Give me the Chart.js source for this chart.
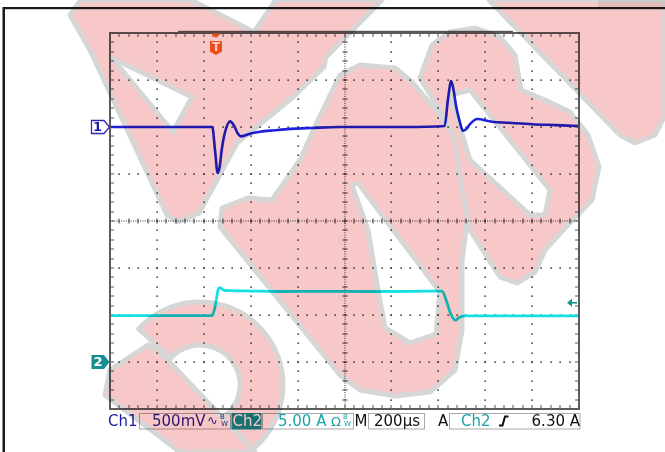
<!DOCTYPE html>
<html><head><meta charset="utf-8">
<script src="https://cdn.jsdelivr.net/npm/chart.js@4.4.0/dist/chart.umd.min.js"></script>
<style>html,body{margin:0;padding:0;background:#fff;overflow:hidden}#wrap{position:relative;width:665px;height:452px}</style>
</head><body><div id="wrap"><canvas id="c" width="665" height="452"></canvas></div>
<script>
// ---- data ----
const ch1TimeUs = [0, 300, 436, 448, 459, 468, 476, 490, 512, 530, 545, 559, 600, 640, 700, 768, 860, 981, 1100, 1250, 1427, 1441, 1455, 1466, 1476, 1490, 1505, 1520, 1535, 1565, 1629, 1700, 1800, 1900, 2000];
const ch1Volts  = [0, 0, 0, -0.25, -0.49, -0.42, -0.25, -0.06, 0.06, 0.01, -0.07, -0.10, -0.07, -0.05, -0.035, -0.02, -0.01, 0, 0, 0, 0.01, 0.29, 0.49, 0.38, 0.22, 0.07, -0.04, -0.02, 0.03, 0.085, 0.056, 0.045, 0.03, 0.02, 0.01];
const ch2TimeUs = [0, 300, 436, 442, 448, 455, 462, 469, 485, 512, 600, 725, 900, 1100, 1300, 1416, 1437, 1451, 1473, 1487, 1514, 1600, 1800, 2000];
const ch2Amps   = [4.93, 4.93, 4.93, 5.3, 5.88, 6.9, 7.77, 7.9, 7.65, 7.59, 7.55, 7.5, 7.52, 7.5, 7.52, 7.55, 6.31, 5.24, 4.44, 4.71, 4.9, 4.9, 4.9, 4.9];

const ch1VoltsPerDiv = 0.5, ch1GroundDiv = 2;
const ch2AmpsPerDiv = 5, ch2GroundDiv = -3;
const timePerDivUs = 200, timeDivs = 10, vertDivs = 8;
const triggerTimeUs = 452;
const triggerLevelA = 6.30;
const statusCh1 = ["Ch1", "500mV"];
const statusCh2 = ["Ch2", "5.00 A"];
const statusTime = ["M", "200\u00b5s"];
const statusTrig = ["A", "Ch2", "6.30 A"];

const ch1Points = ch1TimeUs.map((t, i) => ({x: t, y: ch1GroundDiv + ch1Volts[i] / ch1VoltsPerDiv}));
const ch2Points = ch2TimeUs.map((t, i) => ({x: t, y: ch2GroundDiv + ch2Amps[i] / ch2AmpsPerDiv}));

// ---- watermark shapes (decorative overlay seen on the screenshot) ----
const wmShapes = [
  {outer: [[70,15],[81,0],[191,0],[254,32],[276,0],[382,0],[326,57],[324,67],[293,97],[237,143],[199,213],[178,222],[167,215],[90,50]],
   holes: [[[112,58],[192,97],[173,132]]]},
  {outer: [[220,227],[222,208],[248,198],[272,200],[300,160],[318,120],[340,75],[360,65],[395,68],[412,82],[440,115],[465,150],[470,200],[462,260],[462,330],[455,370],[430,392],[395,396],[360,390],[340,375]],
   holes: [[[352,185],[358,183],[440,292],[436,334],[410,343],[385,328],[378,290],[368,230]]]},
  {outer: [[420,78],[432,45],[450,32],[475,28],[500,37],[515,55],[521,90],[545,100],[570,112],[588,135],[599,167],[592,200],[565,228],[545,250],[535,272],[517,283],[500,277],[470,230],[460,180],[455,140],[440,110]],
   holes: [[[450,95],[470,90],[550,190],[545,215],[530,215],[470,160]]]},
  {outer: [[489,0],[665,0],[665,115],[655,135],[635,143],[620,135]], holes: []},
  {outer: [[105,395],[110,370],[148,345],[160,352],[255,452],[180,452]], holes: []}
];
const wmRing = {cx: 200, cy: 385, rOut: 83, rIn: 40, a0: -2.4, a1: 1.9};

function drawWatermark(ctx, w, h) {
  const off = document.createElement('canvas');
  off.width = w; off.height = h;
  const o = off.getContext('2d');
  o.fillStyle = '#fff'; o.fillRect(0, 0, w, h);
  o.lineJoin = 'round';
  const pink = 'rgb(248,200,200)', grey = 'rgb(214,214,214)';
  o.beginPath();
  o.arc(wmRing.cx, wmRing.cy, wmRing.rOut, wmRing.a0, wmRing.a1);
  o.arc(wmRing.cx, wmRing.cy, wmRing.rIn, wmRing.a1, wmRing.a0, true);
  o.closePath();
  o.fillStyle = pink; o.fill(); o.strokeStyle = grey; o.lineWidth = 5; o.stroke();
  wmShapes.forEach(s => {
    o.beginPath();
    const add = pts => { pts.forEach((p, i) => i ? o.lineTo(p[0], p[1]) : o.moveTo(p[0], p[1])); o.closePath(); };
    add(s.outer); s.holes.forEach(add);
    o.fillStyle = pink; o.fill('evenodd');
    o.strokeStyle = grey; o.lineWidth = 5; o.stroke();
  });
  ctx.save();
  ctx.globalCompositeOperation = 'multiply';
  ctx.drawImage(off, 0, 0);
  ctx.restore();
}

const scopePlugin = {
  id: 'scope',
  beforeDatasetsDraw(chart) {
    const {ctx, chartArea: a} = chart;
    const L = a.left, T = a.top, R = a.right, B = a.bottom;
    const dx = (R - L) / timeDivs, dy = (B - T) / vertDivs;
    ctx.save();
    ctx.fillStyle = '#fff'; ctx.fillRect(L, T, R - L, B - T);
    ctx.fillStyle = '#333';
    for (let i = 1; i < timeDivs; i++) {
      if (i === timeDivs / 2) continue;
      const x = Math.round(L + i * dx);
      for (let k = 1; k < vertDivs * 5; k++) ctx.fillRect(x - 0.6, Math.round(T + k * dy / 5) - 0.6, 1.5, 1.5);
    }
    for (let j = 1; j < vertDivs; j++) {
      if (j === vertDivs / 2) continue;
      const y = Math.round(T + j * dy);
      for (let k = 1; k < timeDivs * 5; k++) ctx.fillRect(Math.round(L + k * dx / 5) - 0.6, y - 0.6, 1.5, 1.5);
    }
    const cx = Math.round((L + R) / 2), cy = Math.round((T + B) / 2);
    for (let k = 1; k < vertDivs * 20; k++) ctx.fillRect(cx - 0.5, T + k * dy / 20 - 0.5, 1, 1);
    for (let k = 1; k < timeDivs * 20; k++) ctx.fillRect(L + k * dx / 20 - 0.5, cy - 0.5, 1, 1);
    for (let k = 1; k < vertDivs * 5; k++) ctx.fillRect(cx - 2.5, Math.round(T + k * dy / 5) - 0.5, 5, 1);
    for (let k = 1; k < timeDivs * 5; k++) ctx.fillRect(Math.round(L + k * dx / 5) - 0.5, cy - 2.5, 1, 5);
    ctx.fillStyle = '#555';
    for (let k = 1; k < timeDivs * 5; k++) {
      const x = Math.round(L + k * dx / 5);
      ctx.fillRect(x - 0.5, T, 1, 4); ctx.fillRect(x - 0.5, B - 4, 1, 4);
    }
    for (let k = 1; k < vertDivs * 5; k++) {
      const y = Math.round(T + k * dy / 5);
      ctx.fillRect(L, y - 0.5, 4, 1); ctx.fillRect(R - 4, y - 0.5, 4, 1);
    }
    ctx.restore();
  },
  afterDatasetsDraw(chart) {
    const {ctx, chartArea: a, scales} = chart;
    const L = a.left, T = a.top, R = a.right, B = a.bottom;
    ctx.save();
    ctx.strokeStyle = '#5c5c5c'; ctx.lineWidth = 2;
    ctx.strokeRect(L, T, R - L, B - T);
    ctx.fillStyle = '#555'; ctx.fillRect(178, T - 2.2, 335, 1.4);
    ctx.fillStyle = '#eeeeee'; ctx.fillRect(598, 0, 67, 7);
    ctx.fillStyle = '#1a1a1a';
    ctx.fillRect(3, 7, 662, 2.2); ctx.fillRect(2.5, 7, 2.5, 445);

    const tx = scales.x.getPixelForValue(triggerTimeUs);
    ctx.fillStyle = '#f2621c';
    ctx.beginPath(); ctx.moveTo(tx - 5, T + 0.5); ctx.lineTo(tx + 5, T + 0.5); ctx.lineTo(tx, T + 5); ctx.closePath(); ctx.fill();
    ctx.beginPath();
    ctx.moveTo(tx - 6, T + 8); ctx.lineTo(tx + 6, T + 8); ctx.lineTo(tx + 6, T + 18.5);
    ctx.lineTo(tx, T + 22); ctx.lineTo(tx - 6, T + 18.5); ctx.closePath(); ctx.fill();
    ctx.fillStyle = '#fff'; ctx.font = 'bold 12px "DejaVu Sans"'; ctx.textAlign = 'center'; ctx.textBaseline = 'middle';
    ctx.fillText('T', tx, T + 14.5);

    const y1 = scales.y.getPixelForValue(ch1GroundDiv);
    ctx.beginPath();
    ctx.moveTo(91.5, y1 - 6.5); ctx.lineTo(104, y1 - 6.5); ctx.lineTo(L - 0.5, y1); ctx.lineTo(104, y1 + 6.5); ctx.lineTo(91.5, y1 + 6.5); ctx.closePath();
    ctx.fillStyle = '#fff'; ctx.fill(); ctx.strokeStyle = '#2a2ab8'; ctx.lineWidth = 1.3; ctx.stroke();
    ctx.fillStyle = '#1a1a9a'; ctx.font = 'bold 13px "DejaVu Sans"'; ctx.textAlign = 'center';
    ctx.fillText('1', 97.5, y1 + 0.5);
    const y2 = scales.y.getPixelForValue(ch2GroundDiv);
    ctx.beginPath();
    ctx.moveTo(91.5, y2 - 7); ctx.lineTo(104, y2 - 7); ctx.lineTo(L - 0.5, y2); ctx.lineTo(104, y2 + 7); ctx.lineTo(91.5, y2 + 7); ctx.closePath();
    ctx.fillStyle = '#178f8f'; ctx.fill();
    ctx.fillStyle = '#fff'; ctx.fillText('2', 98, y2 + 0.5);

    const yt = scales.y.getPixelForValue(ch2GroundDiv + triggerLevelA / ch2AmpsPerDiv);
    ctx.fillStyle = '#178f8f';
    ctx.beginPath(); ctx.moveTo(R - 12, yt); ctx.lineTo(R - 7, yt - 4); ctx.lineTo(R - 7, yt + 4); ctx.closePath(); ctx.fill();
    ctx.fillRect(R - 8, yt - 0.8, 6, 1.6);

    const by = 426;
    ctx.textAlign = 'left'; ctx.textBaseline = 'alphabetic';
    ctx.strokeStyle = '#a9a9a9'; ctx.lineWidth = 1;
    ctx.strokeRect(139.5, 413.5, 91, 15.5);
    ctx.strokeRect(262.5, 413.5, 91, 15.5);
    ctx.strokeRect(368.5, 413.5, 56, 15.5);
    ctx.strokeRect(449.5, 413.5, 130.5, 15.5);
    ctx.font = '15px "DejaVu Sans"';
    ctx.fillStyle = '#1c1c9e'; ctx.fillText(statusCh1[0], 108, by);
    ctx.fillStyle = '#2a1a8e'; ctx.fillText(statusCh1[1], 152, by);
    ctx.font = '13px "DejaVu Sans"'; ctx.fillText('\u223f', 207, by - 1);
    ctx.font = '7px "DejaVu Sans"'; ctx.fillText('B', 220, 419); ctx.fillText('W', 221, 426);
    ctx.fillStyle = '#17908f'; ctx.fillRect(231.5, 413, 30, 16.5);
    ctx.font = '15px "DejaVu Sans"'; ctx.fillStyle = '#fff'; ctx.fillText(statusCh2[0], 232.5, by);
    ctx.fillStyle = '#1aa3aa'; ctx.fillText(statusCh2[1], 278, by);
    ctx.font = '13px "DejaVu Sans"'; ctx.fillText('\u03a9', 331, by);
    ctx.font = '7px "DejaVu Sans"'; ctx.fillText('B', 343, 419); ctx.fillText('W', 344, 426);
    ctx.font = '15px "DejaVu Sans"'; ctx.fillStyle = '#111';
    ctx.fillText(statusTime[0], 354.5, by);
    ctx.fillText(statusTime[1], 374, by);
    ctx.fillText(statusTrig[0], 438, by);
    ctx.fillStyle = '#1aa3aa'; ctx.fillText(statusTrig[1], 461, by);
    ctx.strokeStyle = '#111'; ctx.lineWidth = 2;
    ctx.beginPath(); ctx.moveTo(499, by - 0.5); ctx.lineTo(502.5, by - 0.5); ctx.lineTo(505, by - 9.5); ctx.lineTo(508.5, by - 9.5); ctx.stroke();
    ctx.fillStyle = '#111'; ctx.textAlign = 'right'; ctx.fillText(statusTrig[2], 580, by);
    ctx.restore();

    drawWatermark(ctx, chart.width, chart.height);
  }
};

new Chart(document.getElementById('c'), {
  type: 'line',
  data: {datasets: [
    {label: 'Ch1', data: ch1Points, borderColor: '#2020dc', borderWidth: 2.6, pointRadius: 0, cubicInterpolationMode: 'monotone'},
    {label: 'Ch2', data: ch2Points, borderColor: '#14e2e2', borderWidth: 2.8, pointRadius: 0, cubicInterpolationMode: 'monotone'}
  ]},
  options: {
    responsive: false, animation: false, devicePixelRatio: 1,
    layout: {padding: {left: 110, right: 86, top: 33, bottom: 43}},
    plugins: {legend: {display: false}, tooltip: {enabled: false}},
    scales: {
      x: {type: 'linear', min: 0, max: timePerDivUs * timeDivs, display: false},
      y: {type: 'linear', min: -vertDivs / 2, max: vertDivs / 2, display: false}
    }
  },
  plugins: [scopePlugin]
});
</script></body></html>
